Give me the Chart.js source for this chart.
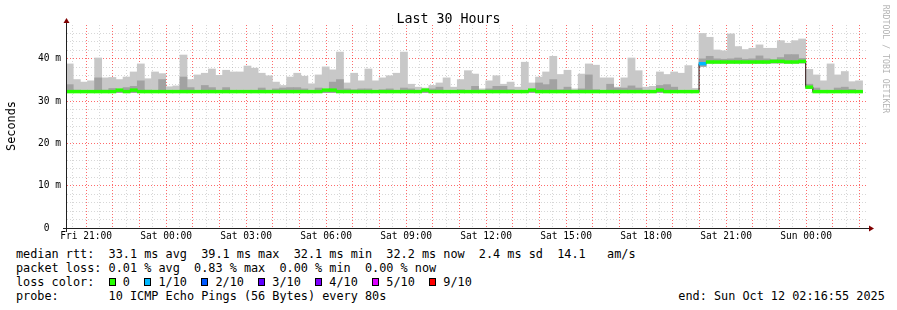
<!DOCTYPE html>
<html lang="en">
<head>
<meta charset="UTF-8">
<title>Last 30 Hours</title>
<script src="https://cdn.jsdelivr.net/npm/chart.js"></script>
<style>
  body { margin: 0; background: #fff; }
  #wrap { position: relative; width: 897px; height: 310px; overflow: hidden;
          font-family: 'DejaVu Sans Mono', monospace; color: #000; }
  #chart { position: absolute; left: 0; top: 0; }
  .txt { position: absolute; white-space: pre; }
  #title { left: 0; top: 11.4px; width: 897px; text-align: center; font-size: 13.3px; line-height: 16px; }
  #ytitle { left: -39.5px; top: 119px; width: 100px; text-align: center; font-size: 11.84px;
            line-height: 14px; transform: rotate(-90deg); }
  #mark { left: 826px; top: 54px; width: 120px; text-align: center; font-size: 8.2px; line-height: 10px;
          color: #b4b4b4; transform: rotate(90deg); }
  #legend { left: 16px; top: 247.2px; font-size: 11.84px; line-height: 14px; }
  #end { left: 678.3px; top: 289.2px; font-size: 11.84px; line-height: 14px; }
  .box { display: inline-block; width: 1ch; height: 8px; box-sizing: border-box;
         border: 1px solid #000; vertical-align: baseline; }
</style>
</head>
<body>
<div id="wrap">
  <canvas id="chart" width="897" height="245"></canvas>
  <div class="txt" id="title">Last 30 Hours</div>
  <div class="txt" id="ytitle">Seconds</div>
  <div class="txt" id="mark">RRDTOOL / TOBI OETIKER</div>
  <div class="txt" id="legend">median rtt:  33.1 ms avg  39.1 ms max  32.1 ms min  32.2 ms now  2.4 ms sd  14.1   am/s
packet loss: 0.01 % avg  0.83 % max  0.00 % min  0.00 % now
loss color:  <span class="box" style="background:#26ff00"></span> 0  <span class="box" style="background:#00b8ff"></span> 1/10  <span class="box" style="background:#0059ff"></span> 2/10  <span class="box" style="background:#5e00ff"></span> 3/10  <span class="box" style="background:#7e00ff"></span> 4/10  <span class="box" style="background:#dd00ff"></span> 5/10  <span class="box" style="background:#ff0000"></span> 9/10
probe:       10 ICMP Echo Pings (56 Bytes) every 80s</div>
  <div class="txt" id="end">end: Sun Oct 12 02:16:55 2025</div>
</div>

<script>
// x is in hours since Fri 20:15, one smoke bin every 16 minutes
const binHours = 16 / 60;
const xStart = 0.032;   // Fri 20:16:55
const xEnd = 30.032;    // Sun 02:16:55

const xTickLabels = ['Fri 21:00', 'Sat 00:00', 'Sat 03:00', 'Sat 06:00', 'Sat 09:00',
                     'Sat 12:00', 'Sat 15:00', 'Sat 18:00', 'Sat 21:00', 'Sun 00:00'];
const yTickLabels = ['0  ', '10 m', '20 m', '30 m', '40 m'];

// highest ping of each bin (light smoke top), ms
const smokeMax = [
  38.8, 35.1, 34.5, 34.8, 40.2, 35.5, 35.6, 35.1, 35.7, 36.9,
  38.8, 35.3, 36.9, 36.5, 33.4, 33.6, 40.9, 35.1, 36.2, 36.6,
  37.6, 36.1, 37.3, 36.9, 36.9, 38.3, 37.8, 36.6, 36.0, 34.5,
  33.7, 35.7, 36.6, 35.9, 34.1, 36.2, 38.1, 37.4, 41.6, 34.3,
  36.6, 34.8, 37.6, 34.8, 35.5, 36.0, 36.6, 41.6, 34.0, 33.3,
  33.1, 33.7, 34.3, 35.5, 33.3, 35.1, 37.2, 36.4, 32.9, 34.8,
  36.0, 34.0, 34.5, 33.3, 39.2, 34.3, 35.7, 36.9, 40.6, 36.3,
  37.3, 32.9, 36.4, 38.8, 38.5, 35.5, 35.5, 33.3, 35.5, 40.2,
  37.2, 33.3, 33.5, 36.9, 36.3, 36.9, 36.6, 38.4, 33.0, 46.0,
  45.1, 42.1, 41.9, 45.9, 42.9, 42.2, 42.5, 43.3, 42.5, 42.5,
  44.3, 43.7, 44.3, 44.7, 37.5, 36.2, 34.8, 38.8, 36.2, 37.0,
  34.6, 34.8
];
// inner (dark) smoke top, ms
const smokeMid = [
  33.9, 32.6, 32.3, 32.3, 35.5, 32.6, 33.0, 32.3, 33.2, 33.5,
  34.8, 32.6, 32.3, 35.1, 32.3, 32.3, 35.7, 33.2, 32.3, 33.7,
  33.2, 32.3, 33.2, 32.3, 32.3, 32.3, 32.3, 33.1, 32.3, 32.9,
  33.1, 33.2, 33.2, 32.9, 32.3, 33.1, 32.3, 34.5, 35.1, 32.9,
  32.7, 32.9, 32.9, 32.3, 32.7, 32.9, 32.3, 33.1, 32.9, 32.3,
  32.3, 32.9, 33.3, 32.3, 32.3, 32.7, 32.3, 33.5, 32.3, 32.9,
  33.5, 33.5, 32.7, 32.3, 32.3, 32.3, 34.3, 33.9, 35.1, 32.7,
  33.3, 32.3, 32.9, 36.2, 32.7, 32.3, 34.0, 33.1, 33.1, 33.6,
  33.1, 32.3, 32.3, 33.7, 33.9, 33.3, 32.3, 32.3, 32.3, 40.0,
  40.6, 40.0, 39.9, 40.0, 40.2, 39.9, 40.0, 40.7, 40.0, 39.8,
  40.3, 41.0, 41.0, 40.1, 34.0, 33.1, 32.3, 32.3, 33.1, 33.3,
  32.8, 32.3
];
// lowest ping of each bin, ms
const smokeMin = [
  32.0, 32.0, 32.0, 32.0, 32.0, 32.0, 32.0, 32.0, 32.0, 32.0,
  32.0, 32.0, 32.0, 32.0, 32.0, 32.0, 32.0, 32.0, 32.0, 32.0,
  32.0, 32.0, 32.0, 32.0, 32.0, 32.0, 32.0, 32.0, 32.0, 32.0,
  32.0, 32.0, 32.0, 32.0, 32.0, 32.0, 32.0, 32.0, 32.0, 32.0,
  32.0, 32.0, 32.0, 32.0, 32.0, 32.0, 32.0, 32.0, 32.0, 32.0,
  32.0, 32.0, 32.0, 32.0, 32.0, 32.0, 32.0, 32.0, 32.0, 32.0,
  32.0, 32.0, 32.0, 32.0, 32.0, 32.0, 32.0, 32.0, 32.0, 32.0,
  32.0, 32.0, 32.0, 32.0, 32.0, 32.0, 32.0, 32.0, 32.0, 32.0,
  32.0, 32.0, 32.0, 32.0, 32.0, 32.0, 32.0, 32.0, 32.0, 38.2,
  39.0, 39.0, 39.0, 39.0, 39.0, 39.0, 39.0, 39.0, 39.0, 39.0,
  39.0, 39.0, 39.0, 39.0, 33.0, 32.0, 32.0, 32.0, 32.0, 32.0,
  32.0, 32.0
];
// median rtt, ms
const medianRtt = [
  32.25, 32.25, 32.25, 32.25, 32.25, 32.25, 32.25, 32.6, 32.25, 32.6,
  32.25, 32.25, 32.25, 32.25, 32.25, 32.25, 32.25, 32.25, 32.25, 32.25,
  32.25, 32.25, 32.25, 32.25, 32.25, 32.25, 32.25, 32.25, 32.25, 32.25,
  32.25, 32.25, 32.25, 32.25, 32.25, 32.25, 32.6, 32.6, 32.25, 32.25,
  32.25, 32.25, 32.25, 32.25, 32.25, 32.25, 32.25, 32.25, 32.25, 32.25,
  32.6, 32.25, 32.25, 32.25, 32.25, 32.25, 32.25, 32.25, 32.25, 32.25,
  32.25, 32.25, 32.25, 32.25, 32.25, 32.6, 32.25, 32.25, 32.25, 32.25,
  32.25, 32.25, 32.25, 32.25, 32.25, 32.25, 32.25, 32.25, 32.25, 32.25,
  32.25, 32.25, 32.25, 32.6, 32.25, 32.25, 32.25, 32.25, 32.25, 38.85,
  39.25, 39.25, 39.25, 39.25, 39.25, 39.25, 39.25, 39.25, 39.25, 39.4,
  39.4, 39.25, 39.25, 39.4, 33.3, 32.25, 32.25, 32.25, 32.25, 32.25,
  32.25, 32.25
];
// packet loss per bin, index into lossColors
const lossIndex = [
  0, 0, 0, 0, 0, 0, 0, 0, 0, 0,  0, 0, 0, 0, 0, 0, 0, 0, 0, 0,
  0, 0, 0, 0, 0, 0, 0, 0, 0, 0,  0, 0, 0, 0, 0, 0, 0, 0, 0, 0,
  0, 0, 0, 0, 0, 0, 0, 0, 0, 0,  0, 0, 0, 0, 0, 0, 0, 0, 0, 0,
  0, 0, 0, 0, 0, 0, 0, 0, 0, 0,  0, 0, 0, 0, 0, 0, 0, 0, 0, 0,
  0, 0, 0, 0, 0, 0, 0, 0, 0, 1,  0, 0, 0, 0, 0, 0, 0, 0, 0, 0,
  0, 0, 0, 0, 0, 0, 0, 0, 0, 0,  0, 0
];
const lossColors = ['#26ff00', '#00b8ff', '#0059ff', '#5e00ff', '#7e00ff', '#dd00ff', '#ff0000'];

const minorGrid = 'rgba(150,150,150,0.38)';
const majorGrid = 'rgba(255,0,0,0.58)';

const center = i => (i + 0.5) * binHours;
const lightSmoke = smokeMax.map((v, i) => ({ x: center(i), y: [smokeMin[i], v] }));
const darkSmoke = smokeMid.map((v, i) => ({ x: center(i), y: [smokeMin[i], v] }));
const medianBars = medianRtt.map((v, i) => ({ x: center(i), y: [v - 0.33, v + 0.33] }));
const medianSteps = medianRtt.map((v, i) => ({ x: i * binHours, y: v }));
medianSteps.push({ x: medianRtt.length * binHours, y: medianRtt[medianRtt.length - 1] });

// rrdtool style axes with arrow heads
const axisArrows = {
  id: 'axisArrows',
  afterDraw(chart) {
    const { ctx, chartArea: a } = chart;
    ctx.save();
    ctx.strokeStyle = '#202020';
    ctx.lineWidth = 1;
    ctx.beginPath();
    ctx.moveTo(a.left - 4, a.bottom + 0.5);
    ctx.lineTo(a.right + 4, a.bottom + 0.5);
    ctx.moveTo(a.left - 0.5, a.bottom + 4);
    ctx.lineTo(a.left - 0.5, a.top - 4);
    ctx.stroke();
    ctx.fillStyle = '#800000';
    ctx.beginPath();
    ctx.moveTo(a.right + 2, a.bottom - 2.5);
    ctx.lineTo(a.right + 2, a.bottom + 3.5);
    ctx.lineTo(a.right + 7, a.bottom + 0.5);
    ctx.closePath();
    ctx.fill();
    ctx.beginPath();
    ctx.moveTo(a.left - 3.5, a.top - 2);
    ctx.lineTo(a.left + 2.5, a.top - 2);
    ctx.lineTo(a.left - 0.5, a.top - 7);
    ctx.closePath();
    ctx.fill();
    ctx.restore();
  }
};

Chart.defaults.font.family = "'DejaVu Sans Mono', monospace";

const bar = { type: 'bar', grouped: false, barPercentage: 1, categoryPercentage: 1, borderWidth: 0 };

new Chart(document.getElementById('chart'), {
  type: 'bar',
  data: {
    datasets: [
      { ...bar, label: 'smoke', data: lightSmoke, backgroundColor: '#c8c8c8', order: 4 },
      { ...bar, label: 'smoke inner', data: darkSmoke, backgroundColor: '#a2a2a2', order: 3 },
      { type: 'line', label: 'median', data: medianSteps, stepped: true, borderColor: '#2b1010',
        borderWidth: 1, pointRadius: 0, fill: false, order: 2 },
      { ...bar, label: 'median loss', data: medianBars,
        backgroundColor: lossIndex.map(k => lossColors[k]), order: 1 }
    ]
  },
  options: {
    responsive: false,
    animation: false,
    layout: { padding: { left: 0, right: 30, top: 25, bottom: 0 } },
    plugins: { legend: { display: false }, tooltip: { enabled: false } },
    scales: {
      x: {
        type: 'linear', min: xStart, max: xEnd, offset: false, z: 1,
        grid: { offset: false, drawTicks: false, lineWidth: 1,
                color: c => Number.isInteger(c.tick.value - 0.75) ? majorGrid : minorGrid },
        border: { display: false, dash: [1, 2] },
        ticks: {
          autoSkip: false, maxRotation: 0, minRotation: 0, padding: 3, color: '#000',
          font: { size: 9.6 },
          callback: v => {
            const k = (v - 0.75) / 3;
            return Number.isInteger(k) && k >= 0 && k < xTickLabels.length ? xTickLabels[k] : '';
          }
        },
        afterBuildTicks: s => {
          const t = [];
          for (let h = 0.25; h < xEnd; h += 0.5) t.push({ value: h });
          s.ticks = t;
        },
        afterFit: s => { s.height = 17; }
      },
      y: {
        min: 0, max: 48, z: 1,
        grid: { drawTicks: false, lineWidth: 1,
                color: c => c.tick.value % 10 === 0 ? majorGrid : minorGrid },
        border: { display: false, dash: [1, 2] },
        ticks: {
          autoSkip: false, padding: 6, color: '#000', font: { size: 9.6 },
          callback: v => v % 10 === 0 ? yTickLabels[v / 10] : ''
        },
        afterBuildTicks: s => {
          const t = [];
          for (let v = 0; v < 48; v += 2) t.push({ value: v });
          s.ticks = t;
        },
        afterFit: s => { s.width = 67; }
      }
    }
  },
  plugins: [axisArrows]
});
</script>
</body>
</html>
